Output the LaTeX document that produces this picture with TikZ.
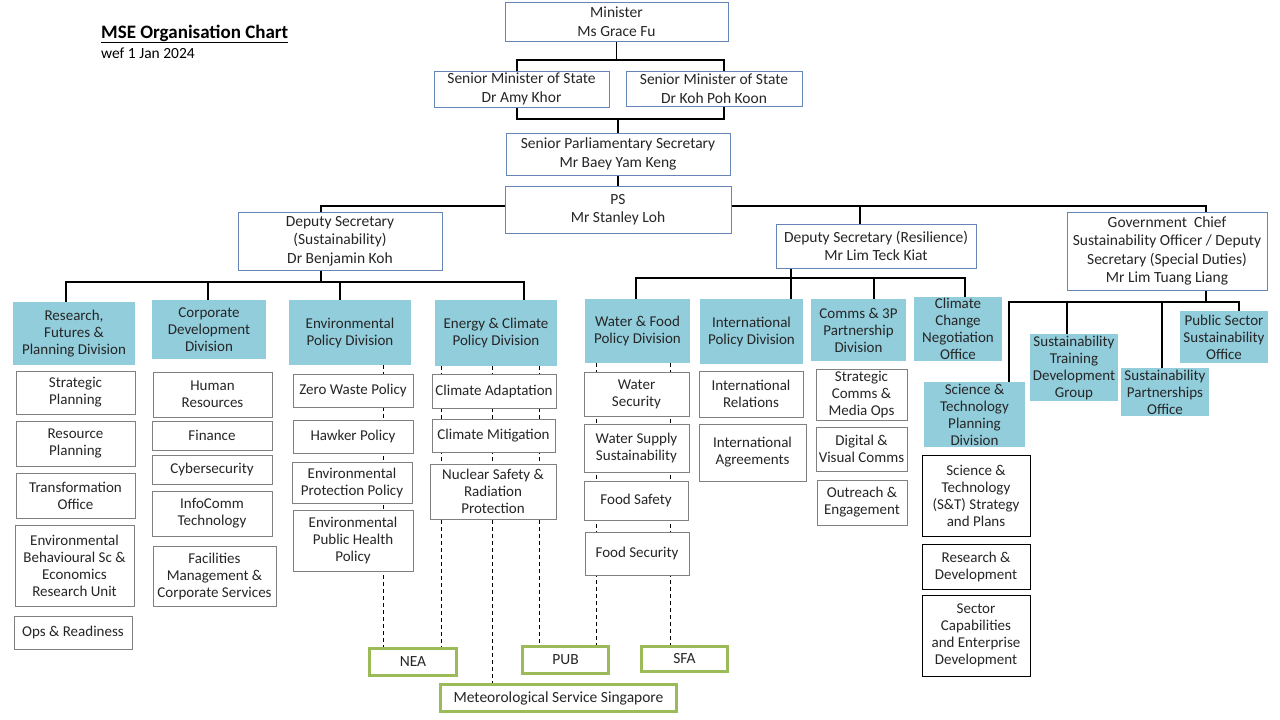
\documentclass[tikz,border=0pt]{standalone}
\usepackage{fontspec}
\setmainfont{Carlito}
\usepackage{tikz}
\usetikzlibrary{backgrounds}
\definecolor{topblue}{RGB}{100,133,182}
\definecolor{divblue}{RGB}{146,205,220}
\definecolor{unitgray}{RGB}{128,128,128}
\definecolor{agencygreen}{RGB}{155,187,89}
\tikzset{orgbox/.style={align=center, inner sep=1pt, fill=white, text=black!85},
    topbox/.style={orgbox, draw=topblue, line width=1pt, font=\fontsize{15.5}{18.5}\selectfont},
    divbox/.style={orgbox, fill=divblue, font=\fontsize{15}{17}\selectfont},
    unitbox/.style={orgbox, draw=unitgray, line width=1pt, font=\fontsize{15}{17}\selectfont},
    stbox/.style={unitbox, draw=black},
    agency/.style={orgbox, draw=agencygreen, line width=3pt, font=\fontsize{15.5}{18}\selectfont},
    wh/.style 2 args={minimum width=#1pt, minimum height=#2pt},
    link/.style={draw, line width=1.1pt},
    agencylink/.style={draw, line width=1pt, dash pattern=on 4pt off 3pt}}

\begin{document}
\begin{tikzpicture}[x=1pt, y=-1pt]
\useasboundingbox (0,0) rectangle (1280,720);
\node[anchor=base west, inner sep=0, font=\fontsize{19}{22}\selectfont\bfseries] (title) at (101,38) {\underline{MSE Organisation Chart}};
\node[anchor=base west, inner sep=0, font=\fontsize{15.5}{18}\selectfont] (wef) at (101,58) {wef 1 Jan 2024};
% top of the ministry
\node[topbox, wh={223}{39}] (minister) at (616.5,21.5) {Minister\\Ms Grace Fu};
\node[topbox, wh={175}{36}] (sms1) at (521.5,89) {Senior Minister of State\\Dr Amy Khor};
\node[topbox, wh={176}{35}] (sms2) at (714,88.5) {Senior Minister of State\\Dr Koh Poh Koon};
\node[topbox, wh={224}{42}] (sps) at (618,154) {Senior Parliamentary Secretary\\Mr Baey Yam Keng};
\node[topbox, wh={226}{47}] (ps) at (618,209.5) {PS\\Mr Stanley Loh};
\node[topbox, wh={204}{58}] (ds1) at (340,241) {Deputy Secretary\\(Sustainability)\\Dr Benjamin Koh};
\node[topbox, wh={200}{44}] (ds2) at (876,246) {Deputy Secretary (Resilience)\\Mr Lim Teck Kiat};
\node[topbox, wh={200}{78}] (ds3) at (1167,251) {Government\ \ Chief\\Sustainability Officer / Deputy\\Secretary (Special Duties)\\Mr Lim Tuang Liang};
% divisions
\node[divbox, wh={122}{63}] (rfp) at (74,333.5) {Research,\\Futures \&\\Planning Division};
\node[divbox, wh={114}{59}] (cdd) at (209,329.5) {Corporate\\Development\\Division};
\node[divbox, wh={122}{65}] (epd) at (350,332.5) {Environmental\\Policy Division};
\node[divbox, wh={122}{66}] (ecpd) at (496,333) {Energy \& Climate\\Policy Division};
\node[divbox, wh={105}{64}] (wfpd) at (637.5,331) {Water \& Food\\Policy Division};
\node[divbox, wh={103}{65}] (ipd) at (751.5,331.5) {International\\Policy Division};
\node[divbox, wh={95}{62}] (c3p) at (858.5,330) {Comms \& 3P\\Partnership\\Division};
\node[divbox, wh={88}{62}] (ccno) at (958,329) {Climate\\Change\\Negotiation\\Office};
\node[divbox, wh={101}{65}] (stpd) at (974.5,414.5) {Science \&\\Technology\\Planning\\Division};
\node[divbox, wh={88}{67}] (stdg) at (1074,367.5) {Sustainability\\Training\\Development\\Group};
\node[divbox, wh={88}{48}] (spo) at (1165,392) {Sustainability\\Partnerships\\Office};
\node[divbox, wh={88}{52}] (psso) at (1224,337) {Public Sector\\Sustainability\\Office};
% units
\node[unitbox, wh={119}{43}] (strat) at (75.5,392.5) {Strategic\\Planning};
\node[unitbox, wh={119}{45}] (resplan) at (75.5,443.5) {Resource\\Planning};
\node[unitbox, wh={119}{45}] (transf) at (75.5,495.5) {Transformation\\Office};
\node[unitbox, wh={119}{81}] (ebsc) at (74.5,565.5) {Environmental\\Behavioural Sc \&\\Economics\\Research Unit};
\node[unitbox, wh={118}{33}] (ops) at (73,632.5) {Ops \& Readiness};
\node[unitbox, wh={119}{45}] (hr) at (212.5,394.5) {Human\\Resources};
\node[unitbox, wh={120}{29}] (fin) at (212,435.5) {Finance};
\node[unitbox, wh={120}{29}] (cyber) at (212,469.5) {Cybersecurity};
\node[unitbox, wh={120}{45}] (ict) at (212,513.5) {InfoComm\\Technology};
\node[unitbox, wh={123}{60}] (fmcs) at (214.5,576) {Facilities\\Management \&\\Corporate Services};
\node[unitbox, wh={120}{33}] (zwp) at (353,390.5) {Zero Waste Policy};
\node[unitbox, wh={120}{33}] (hawk) at (353,436.5) {Hawker Policy};
\node[unitbox, wh={120}{41}] (epp) at (352,482.5) {Environmental\\Protection Policy};
\node[unitbox, wh={120}{61}] (ephp) at (353,540.5) {Environmental\\Public Health\\Policy};
\node[unitbox, wh={124}{34}] (cadapt) at (494,391) {Climate Adaptation};
\node[unitbox, wh={123}{33}] (cmitig) at (493.5,435.5) {Climate Mitigation};
\node[unitbox, wh={126}{55}] (nsrp) at (493,491.5) {Nuclear Safety \&\\Radiation\\Protection};
\node[unitbox, wh={105}{44}] (wsec) at (636.5,394) {Water\\Security};
\node[unitbox, wh={105}{48}] (wss) at (636.5,448) {Water Supply\\Sustainability};
\node[unitbox, wh={104}{39}] (fsafe) at (636,500.5) {Food Safety};
\node[unitbox, wh={104}{43}] (fsec) at (637,553.5) {Food Security};
\node[unitbox, wh={104}{46}] (ir) at (751,394) {International\\Relations};
\node[unitbox, wh={107}{57}] (ia) at (752.5,452.5) {International\\Agreements};
\node[unitbox, wh={91}{51}] (scmo) at (861.5,394.5) {Strategic\\Comms \&\\Media Ops};
\node[unitbox, wh={91}{44}] (dvc) at (861.5,449) {Digital \&\\Visual Comms};
\node[unitbox, wh={90}{45}] (oe) at (862,502.5) {Outreach \&\\Engagement};
\node[stbox, wh={108}{81}] (stsp) at (976,495.5) {Science \&\\Technology\\(S\&T) Strategy\\and Plans};
\node[stbox, wh={108}{45}] (rd) at (976,566.5) {Research \&\\Development};
\node[stbox, wh={108}{81}] (sced) at (976,635.5) {Sector\\Capabilities\\and Enterprise\\Development};
% statutory boards
\node[agency, wh={87}{27}] (nea) at (413,662) {NEA};
\node[agency, wh={86}{27}] (pub) at (565.5,660) {PUB};
\node[agency, wh={86}{25}] (sfa) at (684.5,659) {SFA};
\node[agency, wh={236}{27}] (mss) at (558.5,698) {Meteorological Service Singapore};
\begin{scope}[on background layer]
\fill[white] (0,0) rectangle (1280,720);
\coordinate (minbar) at (616.5,60);
\coordinate (smsbar) at (618,119);
\coordinate (psbar) at (618,206);
\coordinate (ds1bar) at (321,282);
\coordinate (ds2bar) at (791,278);
\coordinate (ds3bar) at (1206,302);
\draw[link] (minister.south) -- (minbar);
\draw[link] ([xshift=-4.5pt]sms1.north) |- (minbar) -| ([xshift=10pt]sms2.north);
\draw[link] ([xshift=-4.5pt]sms1.south) |- (smsbar) -| ([xshift=10pt]sms2.south);
\draw[link] (smsbar) -- (sps.north);
\draw[link] (sps.south) -- (ps.north);
\draw[link] ([xshift=-19pt]ds1.north) |- (psbar) -| ([xshift=39pt]ds3.north);
\draw[link] ([xshift=-16pt]ds2.north) |- (psbar);
\draw[link] ([xshift=-19pt]ds1.south) -- (ds1bar);
\draw[link] ([xshift=-8pt]rfp.north) |- (ds1bar) -| ([xshift=28pt]ecpd.north);
\foreach \n/\s in {cdd/-1, epd/-10}
    \draw[link] ([xshift=\s pt]\n.north) -- ([xshift=\s pt]\n.north |- ds1bar);
\draw[link] ([xshift=-85pt]ds2.south) -- ([xshift=39.5pt]ipd.north);
\draw[link] ([xshift=-1.5pt]wfpd.north) |- (ds2bar) -| ([xshift=7pt]ccno.north);
\draw[link] ([xshift=15.5pt]c3p.north) -- ([xshift=15.5pt]c3p.north |- ds2bar);
\draw[link] ([xshift=39pt]ds3.south) -- (ds3bar);
\draw[link] ([xshift=34.5pt]stpd.north) |- (ds3bar) -| ([xshift=15pt]psso.north);
\foreach \n/\s in {stdg/-7, spo/-3}
    \draw[link] ([xshift=\s pt]\n.north) -- ([xshift=\s pt]\n.north |- ds3bar);
\draw[agencylink] ([xshift=-28pt]epd.south east) -- ([xshift=-28pt]epd.south east |- nea.north);
\draw[agencylink] ([xshift=7pt]ecpd.south west) -- ([xshift=7pt]ecpd.south west |- nea.north);
\draw[agencylink] ([xshift=-4pt]ecpd.south) -- ([xshift=-4pt]ecpd.south |- mss.north);
\draw[agencylink] ([xshift=-18pt]ecpd.south east) -- ([xshift=-18pt]ecpd.south east |- pub.north);
\draw[agencylink] ([xshift=12pt]wfpd.south west) -- ([xshift=12pt]wfpd.south west |- pub.north);
\draw[agencylink] ([xshift=-20pt]wfpd.south east) -- ([xshift=-20pt]wfpd.south east |- sfa.north);
\end{scope}
\end{tikzpicture}
\end{document}
